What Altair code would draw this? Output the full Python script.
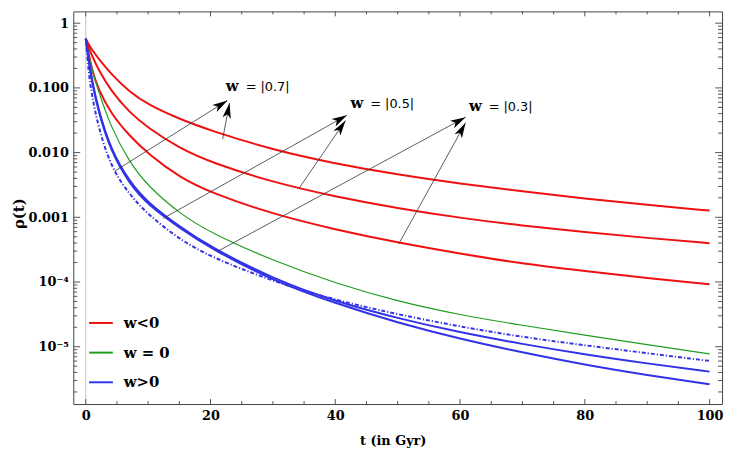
import math
import altair as alt
import pandas as pd

# ---------------- data ----------------
t_grid = [0, 0.5, 1, 2, 4, 7, 10, 15, 20, 30, 40, 50, 60, 70, 80, 90, 100]

red_07 = [0.575, 0.468, 0.389, 0.288, 0.166, 0.0871, 0.0550, 0.0331, 0.0219,
          0.0110, 0.00676, 0.00457, 0.00331, 0.00251, 0.00195, 0.00155, 0.00127]
red_05 = [0.575, 0.417, 0.316, 0.195, 0.0912, 0.0417, 0.0240, 0.0117, 0.00708,
          0.00347, 0.00209, 0.00138, 0.000977, 0.000741, 0.000589, 0.000479, 0.000398]
red_03 = [0.575, 0.331, 0.191, 0.0955, 0.0407, 0.0182, 0.00955, 0.00417, 0.00240,
          0.00112, 0.000646, 0.000407, 0.000275, 0.000191, 0.000148, 0.000115, 0.0000923]
green_0 = [0.575, 0.316, 0.191, 0.0912, 0.0251, 0.00708, 0.00302, 0.00115, 0.000575,
           0.000214, 0.0000955, 0.0000501, 0.0000309, 0.0000214, 0.0000151, 0.0000107, 0.00000776]
blue_1 = [0.575, 0.263, 0.132, 0.0468, 0.0112, 0.00355, 0.00166, 0.000724, 0.000347,
          0.000112, 0.0000501, 0.0000275, 0.0000166, 0.0000110, 0.00000759, 0.00000550, 0.00000412]
blue_2 = [0.575, 0.251, 0.123, 0.0437, 0.0105, 0.00331, 0.00155, 0.000692, 0.000331,
          0.000105, 0.0000468, 0.0000234, 0.0000132, 0.00000813, 0.00000525, 0.00000363, 0.00000263]
blue_dash = [0.575, 0.158, 0.0759, 0.0251, 0.00603, 0.00224, 0.00110, 0.000457, 0.000245,
             0.000102, 0.0000525, 0.0000316, 0.0000204, 0.0000141, 0.0000105, 0.00000794, 0.00000603]

legend_labels = ["w<0", "w = 0", "w>0"]
legend_colors = ["#ee1111", "#1e9e1e", "#3232e6"]

x_major = [0, 20, 40, 60, 80, 100]
x_minor = [5, 10, 15, 25, 30, 35, 45, 50, 55, 65, 70, 75, 85, 90, 95]
y_major = [1, 0.1, 0.01, 0.001, 0.0001, 0.00001]
y_major_labels = ["1", "0.100", "0.010", "0.001", "10⁻⁴", "10⁻⁵"]
y_minor = [m * 10.0 ** k for k in range(-6, 0) for m in range(2, 10)]

ann_w = ["= |0.7|", "= |0.5|", "= |0.3|"]
ann_t = [22.46, 42.44, 61.42]
ann_rho = [0.1014, 0.0564, 0.0502]

arrow_t0 = [4.66, 21.94, 12.43, 34.15, 21.15, 50.16]
arrow_r0 = [0.00519, 0.0161, 0.000964, 0.00277, 0.000298, 0.000386]
arrow_t1 = [22.73, 23.05, 41.87, 41.65, 60.89, 60.89]
arrow_r1 = [0.0641, 0.0583, 0.0378, 0.0314, 0.0353, 0.0289]

# ---------------- layout ----------------
W, H = 656, 397
XDOM = [-2, 102]
YDOM = [1.3e-6, 1.52]
FONT = "DejaVu Serif"

x_scale = alt.Scale(domain=XDOM, nice=False, zero=False)
y_scale = alt.Scale(type="log", domain=YDOM, nice=False)


def px(t):
    return (t - XDOM[0]) / (XDOM[1] - XDOM[0]) * W


def py(v):
    lo, hi = math.log10(YDOM[0]), math.log10(YDOM[1])
    return (hi - math.log10(v)) / (hi - lo) * H


angles = []
for a, b, c, d in zip(arrow_t0, arrow_r0, arrow_t1, arrow_r1):
    dx = px(c) - px(a)
    dy = py(d) - py(b)
    angles.append(math.degrees(math.atan2(dx, -dy)) % 360)

series = {
    "r07": (red_07, "w<0"), "r05": (red_05, "w<0"), "r03": (red_03, "w<0"),
    "g0": (green_0, "w = 0"),
    "b1": (blue_1, "w>0"), "b2": (blue_2, "w>0"), "bd": (blue_dash, "w>0"),
}
rows = []
for name, (vals, grp) in series.items():
    for t, v in zip(t_grid, vals):
        rows.append({"t": t, "rho": v, "series": name, "group": grp})
curves = pd.DataFrame(rows)

label_expr = " : ".join(
    f"abs(log(datum.value)/LN10 - ({math.log10(v):.4f})) < 0.01 ? '{lab}'"
    for v, lab in zip(y_major, y_major_labels)
) + " : ''"

x_axis = alt.Axis(
    values=x_major, ticks=False, domain=False, grid=False,
    labelFont=FONT, labelFontWeight="bold", labelFontSize=13, labelColor="black",
    labelPadding=6, title="t (in Gyr)", titleFont=FONT, titleFontWeight="bold",
    titleFontSize=13, titleColor="black", titleX=323, titleY=37,
    titleBaseline="middle",
)
y_axis = alt.Axis(
    values=y_major, labelExpr=label_expr, ticks=False, domain=False, grid=False,
    labelFont=FONT, labelFontWeight="bold", labelFontSize=13, labelColor="black",
    labelPadding=5, title="ρ(t)", titleFont=FONT, titleFontWeight="bold",
    titleFontSize=15, titleColor="black", titleX=-55, titleY=204,
    titleBaseline="middle",
)


def X(field="t"):
    return alt.X(f"{field}:Q", scale=x_scale, axis=x_axis)


def Y(field="rho"):
    return alt.Y(f"{field}:Q", scale=y_scale, axis=y_axis)


color = alt.Color(
    "group:N",
    scale=alt.Scale(domain=legend_labels, range=legend_colors),
    legend=alt.Legend(
        title=None, orient="none", legendX=15, legendY=302, padding=0,
        symbolType="stroke", symbolSize=576, symbolStrokeWidth=2,
        labelFont=FONT, labelFontWeight="bold", labelFontSize=15,
        labelColor="black", labelOffset=10, rowPadding=9,
    ),
)

zero_line = alt.Chart(pd.DataFrame({"t": [0]})).mark_rule(
    color="#c4c4c4", strokeWidth=1
).encode(x=X())

base = alt.Chart(curves)
red = base.transform_filter("datum.group == 'w<0'").mark_line(
    strokeWidth=2, interpolate="basis"
).encode(x=X(), y=Y(), color=color, detail="series:N")
green = base.transform_filter("datum.group == 'w = 0'").mark_line(
    strokeWidth=1.2, interpolate="basis"
).encode(x=X(), y=Y(), color=color, detail="series:N")
blue = base.transform_filter("datum.series == 'b1' || datum.series == 'b2'").mark_line(
    strokeWidth=2, interpolate="basis"
).encode(x=X(), y=Y(), color=color, detail="series:N")
blue_dd = base.transform_filter("datum.series == 'bd'").mark_line(
    strokeWidth=2, interpolate="basis", strokeDash=[4, 2, 1.2, 2]
).encode(x=X(), y=Y(), color=color, detail="series:N")

arrows_df = pd.DataFrame({
    "t": arrow_t0, "rho": arrow_r0, "t1": arrow_t1, "rho1": arrow_r1, "ang": angles
})
arrow_lines = alt.Chart(arrows_df).mark_rule(color="#333333", strokeWidth=0.8).encode(
    x=X(), y=Y(), x2="t1:Q", y2="rho1:Q"
)
arrow_heads = alt.Chart(arrows_df).mark_point(
    shape="M0,0 L0.55,2 L0,1.5 L-0.55,2 Z", filled=True, size=240,
    color="black", opacity=1, strokeWidth=0
).encode(
    x=X("t1"), y=Y("rho1"),
    angle=alt.Angle("ang:Q", scale=None),
)

ann_df = pd.DataFrame({"t": ann_t, "rho": ann_rho, "w": ann_w})
ann_w_text = alt.Chart(ann_df).mark_text(
    text="w", font=FONT, fontWeight="bold", fontSize=15, align="left",
    baseline="middle", color="black", dy=-1
).encode(x=X(), y=Y())
ann_v_text = alt.Chart(ann_df).mark_text(
    font="DejaVu Sans", fontSize=13, align="left", baseline="middle",
    color="black", dx=20
).encode(x=X(), y=Y(), text="w:N")

# frame ticks (inward, Mathematica style)
TICK = "#555555"
ymaj_df = pd.DataFrame({"rho": y_major})
ymin_df = pd.DataFrame({"rho": [v for v in y_minor if YDOM[0] < v < YDOM[1]]})
xmaj_df = pd.DataFrame({"t": x_major})
xmin_df = pd.DataFrame({"t": x_minor})

ticks = []
for df, ln in ((ymaj_df, 7), (ymin_df, 4)):
    ch = alt.Chart(df).mark_rule(color=TICK, strokeWidth=1)
    ticks.append(ch.encode(y=Y(), x=alt.value(0), x2=alt.value(ln)))
    ticks.append(ch.encode(y=Y(), x=alt.value(W), x2=alt.value(W - ln)))
for df, ln in ((xmaj_df, 5), (xmin_df, 3)):
    ch = alt.Chart(df).mark_rule(color=TICK, strokeWidth=1)
    ticks.append(ch.encode(x=X(), y=alt.value(H), y2=alt.value(H - ln)))
    ticks.append(ch.encode(x=X(), y=alt.value(0), y2=alt.value(ln)))

chart = alt.layer(
    zero_line, red, green, blue, blue_dd, arrow_lines, arrow_heads,
    ann_w_text, ann_v_text, *ticks
).properties(
    width=W, height=H,
    autosize=alt.AutoSizeParams(type="none"),
    padding={"left": 66, "top": 1, "right": 4, "bottom": 44},
    background="white",
).configure_view(stroke="#444444", strokeWidth=1)

chart.save("out.html", embed_options={"renderer": "svg", "actions": False})
